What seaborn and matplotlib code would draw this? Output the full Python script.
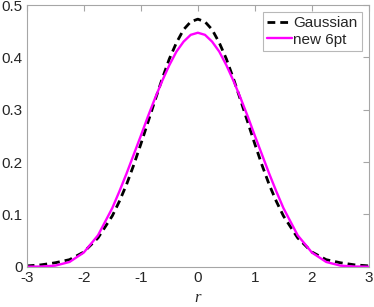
import seaborn as sns
import matplotlib.pyplot as plt
import pandas as pd

# values
r = [-3, -2.75, -2.5, -2.25, -2, -1.75, -1.5, -1.375, -1.25, -1.125, -1,
     -0.875, -0.75, -0.625, -0.5, -0.375, -0.25, -0.125, 0,
     0.125, 0.25, 0.375, 0.5, 0.625, 0.75, 0.875, 1, 1.125, 1.25, 1.375,
     1.5, 1.75, 2, 2.25, 2.5, 2.75, 3]

gaussian = [0.0015, 0.0035, 0.0075, 0.0134, 0.028, 0.055, 0.097, 0.125, 0.157, 0.194, 0.234,
            0.276, 0.318, 0.359, 0.397, 0.428, 0.453, 0.468, 0.473,
            0.468, 0.453, 0.428, 0.397, 0.359, 0.318, 0.276, 0.234, 0.194, 0.157, 0.125,
            0.097, 0.055, 0.028, 0.0134, 0.0075, 0.0035, 0.0015]

new_6pt = [0.0, 0.0003, 0.002, 0.009, 0.027, 0.060, 0.112, 0.144, 0.178, 0.214, 0.250,
           0.287, 0.322, 0.355, 0.385, 0.411, 0.430, 0.443, 0.447,
           0.443, 0.430, 0.411, 0.385, 0.355, 0.322, 0.287, 0.250, 0.214, 0.178, 0.144,
           0.112, 0.060, 0.027, 0.009, 0.002, 0.0003, 0.0]

x_ticks = [-3, -2, -1, 0, 1, 2, 3]
y_ticks = [0, 0.1, 0.2, 0.3, 0.4, 0.5]

sns.set_style("white")
plt.rcParams['font.family'] = ['Liberation Sans', 'DejaVu Sans']

df = pd.DataFrame({"r": r, "Gaussian": gaussian, "new 6pt": new_6pt})

fig = plt.figure(figsize=(3.74, 3.07), dpi=100)
ax = fig.add_axes([0.0714, 0.1313, 0.9152, 0.8524])

sns.lineplot(data=df, x="r", y="Gaussian", ax=ax, color="black",
             linewidth=2.0, linestyle=(0, (2.8, 1.8)), label="Gaussian")
sns.lineplot(data=df, x="r", y="new 6pt", ax=ax, color="#ff00ff",
             linewidth=1.7, label="new 6pt")

ax.set_xlim(-3, 3)
ax.set_ylim(0, 0.5)
ax.set_xticks(x_ticks)
ax.set_xticklabels([str(t) for t in x_ticks])
ax.set_yticks(y_ticks)
ax.set_yticklabels(["0", "0.1", "0.2", "0.3", "0.4", "0.5"])

ax.set_xlabel("r", fontsize=12, family="Liberation Serif", style="italic", labelpad=4)
ax.set_ylabel("")

spine_col = "#a6a6a6"
for s in ax.spines.values():
    s.set_color(spine_col)
    s.set_linewidth(0.8)
    s.set_visible(True)

ax.tick_params(direction="in", length=4, width=0.8, color=spine_col,
               labelsize=11, labelcolor="#262626", top=True, right=True, pad=3)

leg = ax.legend(loc="upper right", fontsize=11, handlelength=1.6, handletextpad=0.1,
                borderpad=0.3, labelspacing=0.15, borderaxespad=0.45, fancybox=False,
                frameon=True)
leg.get_frame().set_edgecolor(spine_col)
leg.get_frame().set_linewidth(0.8)

plt.savefig("out.png", dpi=100)
plt.close()
